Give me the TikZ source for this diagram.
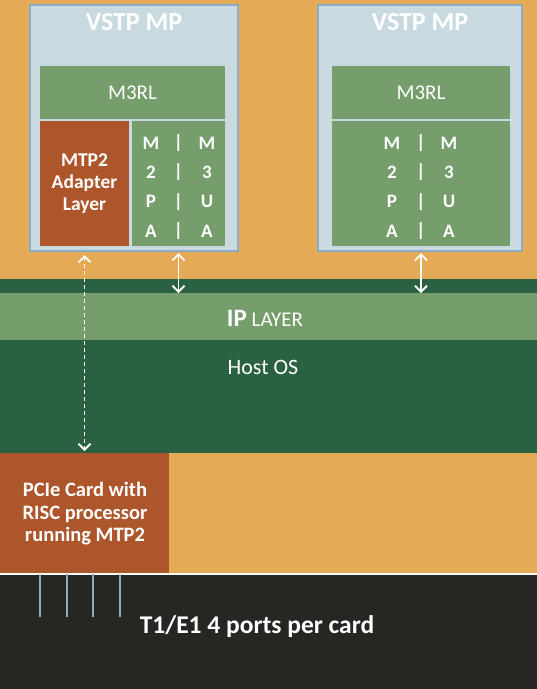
\documentclass[tikz,border=0pt]{standalone}
\usepackage{fontspec}
\setmainfont{Carlito}
\usetikzlibrary{arrows.meta}
\definecolor{bgorange}{HTML}{E5AA56}
\definecolor{vstpfill}{HTML}{C8D9E0}
\definecolor{vstpline}{HTML}{8BACC5}
\definecolor{lgreen}{HTML}{759E6C}
\definecolor{dgreen}{HTML}{2A6143}
\definecolor{rust}{HTML}{AD552B}
\definecolor{blackbg}{HTML}{272623}
\begin{document}
\begin{tikzpicture}[x=1pt,y=-1pt,
  blk/.style={rectangle, inner sep=0pt, outer sep=0pt, anchor=north west, draw=none},
  vstp/.style={blk, fill=vstpfill, draw=vstpline, line width=1.5pt},
  txt/.style={inner sep=0pt, outer sep=0pt, text=white, align=center},
  dbl/.style={draw=white, line width=1.8pt, {Straight Barb[length=6pt,width=12pt]}-{Straight Barb[length=6pt,width=12pt]}},
  dbldash/.style={dbl, dash pattern=on 4pt off 3pt},
  port/.style={draw=vstpline, line width=1.5pt}]
\useasboundingbox (0,0) rectangle (537,689);
\fill[bgorange] (0,0) rectangle (537,573);
% left VSTP
\node[vstp, minimum width=208pt, minimum height=246pt] (vstpL) at (30,5) {};
\node[txt, font=\fontsize{26}{28}\selectfont\bfseries] (titleL) at (134,22) {VSTP MP};
\node[blk, fill=lgreen, minimum width=185pt, minimum height=53pt] (m3rlL) at (40,66) {};
\node[txt, font=\fontsize{21}{24}\selectfont] (m3rlLt) at (m3rlL.center) {M3RL};
\node[blk, fill=rust, minimum width=89pt, minimum height=125pt] (mtp2L) at (40,121) {};
\node[txt, font=\fontsize{19.5}{22}\selectfont\bfseries] (mtp2Lt) at (mtp2L.center) {MTP2\\Adapter\\Layer};
\node[blk, fill=lgreen, minimum width=93pt, minimum height=125pt] (m2paL) at (132,121) {};
\node[txt, font=\fontsize{19}{29.3}\selectfont\bfseries] (cL1) at (151,187) {M\\2\\P\\A};
\node[txt, font=\fontsize{19}{29.3}\selectfont\bfseries] (cL2) at (178.5,187) {|\\|\\|\\|};
\node[txt, font=\fontsize{19}{29.3}\selectfont\bfseries] (cL3) at (207,187) {M\\3\\U\\A};
% right VSTP
\node[vstp, minimum width=204pt, minimum height=246pt] (vstpR) at (318,5) {};
\node[txt, font=\fontsize{26}{28}\selectfont\bfseries] (titleR) at (420,22) {VSTP MP};
\node[blk, fill=lgreen, minimum width=178pt, minimum height=53pt] (m3rlR) at (332,66) {};
\node[txt, font=\fontsize{21}{24}\selectfont] (m3rlRt) at (m3rlR.center) {M3RL};
\node[blk, fill=lgreen, minimum width=178pt, minimum height=125pt] (m2paR) at (332,121) {};
\node[txt, font=\fontsize{19}{29.3}\selectfont\bfseries] (cR1) at (392,187) {M\\2\\P\\A};
\node[txt, font=\fontsize{19}{29.3}\selectfont\bfseries] (cR2) at (421,187) {|\\|\\|\\|};
\node[txt, font=\fontsize{19}{29.3}\selectfont\bfseries] (cR3) at (449,187) {M\\3\\U\\A};
% host OS and IP layer
\node[blk, fill=dgreen, minimum width=537pt, minimum height=174pt] (host) at (0,279) {};
\node[txt, font=\fontsize{22}{26}\selectfont] (hostt) at (263,367) {Host OS};
\node[blk, fill=lgreen, minimum width=537pt, minimum height=47pt] (ipl) at (0,293) {};
\node[txt, font=\fontsize{21}{26}\selectfont] (iplt) at (265,318) {{\fontsize{25}{26}\selectfont\bfseries IP} LAYER};
% PCIe card
\node[blk, fill=rust, minimum width=169pt, minimum height=120pt] (pcie) at (0,453) {};
\node[txt, font=\fontsize{20.5}{22.5}\selectfont\bfseries] (pciet) at (85,514) {PCIe Card with\\RISC processor\\running MTP2};
% bottom
\node[blk, fill=blackbg, minimum width=537pt, minimum height=115pt] (bottom) at (0,574) {};
\draw[white, line width=1pt] (bottom.north west) -- (bottom.north east);
\node[txt, font=\fontsize{25.5}{28}\selectfont\bfseries] (t1e1) at (257,627) {T1/E1 4 ports per card};
\coordinate (p1) at (40,617); \coordinate (p2) at (67,617);
\coordinate (p3) at (93,617); \coordinate (p4) at (120,617);
\foreach \p in {p1,p2,p3,p4} \draw[port] (bottom.north -| \p) -- (\p);
% arrows
\draw[dbl, shorten <=2pt] (vstpL.south -| m2paL.center) -- (ipl.north -| m2paL.center);
\draw[dbl, shorten <=2pt] (vstpR.south -| m2paR.center) -- (ipl.north -| m2paR.center);
\draw[dbldash, shorten <=4pt, shorten >=2pt] (vstpL.south -| mtp2L.center) -- (pcie.north -| mtp2L.center);
\end{tikzpicture}
\end{document}
